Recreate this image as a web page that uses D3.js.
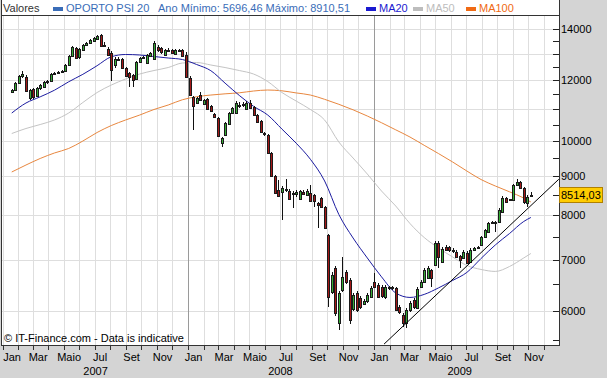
<!DOCTYPE html>
<html>
<head>
<meta charset="utf-8">
<script src="https://cdn.jsdelivr.net/npm/d3@7"></script>
<style>
  html, body { margin: 0; padding: 0; background: #d4d4d4; }
  svg { display: block; font-family: "Liberation Sans", Arial, sans-serif; }
</style>
</head>
<body>
<svg id="chart"></svg>
<script>
// ---- data (weekly candles, PSI 20) ----
const weekDates = d3.timeFriday.range(new Date(2007, 0, 19), new Date(2009, 10, 7));

const openVals = [
  11585, 11655, 11900, 12155, 12120, 11380, 11690, 11445, 11725, 11760,
  11938, 11974, 12229, 12266, 12303, 12340, 12564, 12908, 13222, 12869,
  13143, 13342, 13422, 13502, 13584, 13748, 13342, 13182, 13025, 12564,
  12792, 12792, 12452, 12266, 12192, 12047, 12678, 12831, 12640, 12908,
  12792, 13262, 13222, 12947, 13143, 13143, 12986, 13143, 13143, 12947,
  12083, 11413, 11209, 11481, 11176, 11344, 11109, 10845, 10715, 9941,
  10182, 10524, 10877, 10877, 11142, 11142, 11009, 11209, 11076, 10812,
  10619, 10244, 10182, 9647, 9003, 8632, 8580, 8632, 8606, 8555,
  8529, 8402, 8580, 8503, 8555, 8503, 8302, 8427, 8203, 7541,
  6356, 6831, 5792, 6394, 6750, 6589, 6040, 6337, 6242, 6131,
  6186, 6261,
  6550, 6491, 6452, 6261, 6433, 6452, 6433, 6077, 5932, 5792,
  6022, 6205, 6058, 6452, 6550, 6629, 6790, 6892, 7363, 6955,
  7275, 7275, 7210, 7167, 7081, 7039, 7145, 6955, 7210, 7254,
  7319, 7496, 7609, 7818, 7842, 7842, 8080, 8427, 8377, 8377,
  8763, 8842, 8684, 8302, 8503
];
const highVals = [
  11690, 11940, 12190, 12340, 12190, 11690, 11725, 11760, 11866, 11974,
  12010, 12266, 12303, 12340, 12377, 12601, 12947, 13302, 13262, 13222,
  13382, 13462, 13584, 13666, 13748, 13790, 13462, 13262, 13104, 12869,
  12869, 12831, 12489, 12303, 12229, 12716, 12869, 12908, 12986, 13064,
  13502, 13342, 13262, 13182, 13222, 13182, 13182, 13182, 13182, 13064,
  12156, 11447, 11413, 11585, 11344, 11378, 11142, 10877, 10748, 10121,
  10587, 10910, 11076, 11276, 11243, 11243, 11276, 11310, 11109, 10845,
  10651, 10274, 10213, 9676, 9030, 8895, 8737, 8922, 8658, 8606,
  8632, 8632, 8632, 8658, 8763, 8529, 8327, 8453, 8228, 7564,
  6750, 6872, 6375, 7060, 6790, 6629, 6337, 6375, 6280, 6224,
  6337, 6472,
  6730, 6530, 6491, 6491, 6472, 6472, 6452, 6113, 5968, 6058,
  6186, 6242, 6452, 6589, 6831, 6872, 6810, 7407, 7407, 7275,
  7319, 7297, 7254, 7210, 7102, 7210, 7188, 7254, 7275, 7297,
  7519, 7678, 7842, 7865, 7865, 8178, 8478, 8453, 8402, 8790,
  8910.51, 8868, 8710, 8503, 8580
];
const lowVals = [
  11550, 11620, 11865, 12080, 11585, 11310, 11345, 11410, 11655, 11725,
  11866, 11938, 12192, 12229, 12266, 12303, 12526, 12869, 12792, 12792,
  13104, 13302, 13382, 13462, 13543, 13262, 13262, 12908, 11974, 12452,
  12716, 12415, 12120, 11760, 11760, 12010, 12640, 12792, 12601, 12869,
  12754, 13064, 12986, 12908, 13064, 12986, 12947, 13064, 12869, 12083,
  11447, 10336, 11176, 11276, 11142, 10976, 10910, 10715, 10121, 9822,
  10152, 10492, 10845, 10845, 11042, 11076, 10976, 11009, 10780, 10556,
  10244, 10152, 9618, 8976, 8529, 8453, 7889, 8580, 8377, 8178,
  8453, 8377, 8503, 8478, 8327, 8203, 7701, 8178, 7678, 6077,
  6318, 5914, 5671, 6356, 6511, 5774, 6004, 5986, 6040, 6113,
  6149, 6242,
  6433, 6242, 6242, 6224, 6394, 6394, 6004, 5950, 5722, 5696.46,
  5986, 6040, 6040, 6433, 6530, 6609, 6452, 6872, 6831, 6934,
  7188, 7167, 7145, 7039, 6831, 7018, 6913, 6934, 7188, 7232,
  7297, 7474, 7586, 7795, 7609, 7818, 8056, 8302, 8352, 8352,
  8737, 8658, 8277, 8203, 8453
];
const closeVals = [
  11655, 11900, 12155, 12230, 11620, 11655, 11410, 11725, 11831, 11938,
  11974, 12229, 12266, 12303, 12340, 12564, 12908, 13262, 12831, 13182,
  13342, 13422, 13543, 13625, 13707, 13302, 13302, 12947, 12377, 12792,
  12754, 12452, 12156, 12120, 12010, 12678, 12831, 12869, 12947, 13025,
  13422, 13143, 13064, 13143, 13104, 13025, 13143, 13104, 12908, 12120,
  11481, 11109, 11378, 11310, 11310, 11009, 10943, 10748, 10152, 10091,
  10556, 10877, 11042, 11209, 11109, 11176, 11209, 11042, 10812, 10587,
  10274, 10213, 9647, 9003, 8555, 8478, 8684, 8658, 8402, 8529,
  8580, 8606, 8529, 8606, 8352, 8352, 8252, 8203, 7701, 6261,
  6689, 5968, 6337, 6649, 6550, 5844, 6299, 6022, 6077, 6186,
  6299, 6433,
  6452, 6261, 6280, 6452, 6452, 6433, 6022, 5986, 5792, 6022,
  6149, 6077, 6413, 6550, 6790, 6831, 6629, 7363, 7060, 7232,
  7210, 7210, 7188, 7060, 6997, 7167, 6934, 7210, 7254, 7275,
  7496, 7655, 7818, 7842, 7850, 8129, 8427, 8327, 8390, 8763,
  8842, 8684, 8327, 8453, 8514.03
];

// moving averages, read every 4th week
const maWeeks = [0, 4, 8, 12, 16, 20, 24, 28, 32, 36, 40, 44, 48, 52, 56, 60, 64, 68, 72,
  76, 80, 84, 88, 92, 96, 100, 104, 108, 112, 116, 120, 124, 128, 132, 136, 140, 144, 146];
const ma20 = [10877, 11209, 11419, 11648, 11946, 12218, 12538, 12878, 12967, 12947,
  12889, 12831, 12773, 12583, 12351, 11899, 11467, 11099, 10812, 10364,
  9935, 9466, 8869, 8020, 7474, 7039, 6651, 6337, 6252, 6309,
  6433, 6579, 6740, 7029, 7319, 7575, 7854, 7949];
const ma50 = [10228, 10383, 10508, 10651, 10877, 11226, 11568, 11831, 12047, 12229,
  12358, 12470, 12640, 12659, 12564, 12470, 12358, 12229, 11956, 11568,
  11276, 10993, 10651, 9970, 9503, 9057, 8606, 8227, 7806, 7485,
  7253, 7060, 6882, 6800, 6760, 6861, 7039, 7134];
const ma100 = [9112, 9305, 9489, 9647, 9778, 10000, 10259, 10476, 10651, 10812,
  10993, 11142, 11320, 11423, 11481, 11523, 11558, 11620, 11655, 11627,
  11554, 11481, 11334, 11166, 10983, 10780, 10565, 10342, 10121, 9872,
  9632, 9390, 9139, 8908, 8737, 8586, 8427, 8328];

// support trendline
const trendDates = ["2009-01-21", "2009-12-31"];
const trendVals = [5435, 8915];

// axes
const yTickVals = [5500, 6000, 6500, 7000, 7500, 8000, 8500, 9000, 9500, 10000,
  10500, 11000, 11500, 12000, 12500, 13000, 13500, 14000];
const yLabelVals = [6000, 7000, 8000, 9000, 10000, 12000, 14000];
const yGridVals = [6000, 7000, 8000, 9000, 10000, 11000, 12000, 13000, 14000];
const monthNames = ["Jan", "Fev", "Mar", "Abr", "Maio", "Jun", "Jul", "Ago", "Set", "Out", "Nov", "Dez"];
const yearNames = ["2007", "2008", "2009"];
const yearLabelDates = ["2007-07-03", "2008-07-01", "2009-06-19"];
const lastPriceLabel = "8514,03";

// ---- setup ----
const width = 607;
const height = 378;
const plot = { left: 1, right: 559, top: 15, bottom: 345 };

const svg = d3.select("#chart")
  .attr("width", width)
  .attr("height", height);

const parse = d3.timeParse("%Y-%m-%d");

const x = d3.scaleTime()
  .domain([new Date(2007, 0, 1), new Date(2010, 0, 1)])
  .range([2.6, 559.3]);

const y = d3.scaleLog()
  .domain([5420, 14600])
  .range([plot.bottom, plot.top]);

svg.append("rect")
  .attr("width", width)
  .attr("height", height)
  .attr("fill", "#d4d4d4");

svg.append("rect")
  .attr("x", plot.left)
  .attr("y", 0)
  .attr("width", plot.right - plot.left)
  .attr("height", plot.bottom)
  .attr("fill", "#ffffff");

svg.append("clipPath")
  .attr("id", "plot-clip")
  .append("rect")
  .attr("x", plot.left)
  .attr("y", plot.top)
  .attr("width", plot.right - plot.left)
  .attr("height", plot.bottom - plot.top);

// ---- grid ----
const months = d3.timeMonth.range(new Date(2007, 0, 1), new Date(2010, 0, 1));

svg.append("g")
  .selectAll("line")
  .data(yGridVals)
  .join("line")
  .attr("x1", plot.left)
  .attr("x2", plot.right)
  .attr("y1", d => Math.round(y(d)) + 0.5)
  .attr("y2", d => Math.round(y(d)) + 0.5)
  .attr("stroke", "#dedede");

svg.append("g")
  .selectAll("line")
  .data(months)
  .join("line")
  .attr("x1", d => Math.round(x(d)) + 0.5)
  .attr("x2", d => Math.round(x(d)) + 0.5)
  .attr("y1", plot.top)
  .attr("y2", plot.bottom)
  .attr("stroke", d => d.getMonth() === 0 && d.getFullYear() > 2007 ? "#9a9a9a" : "#dedede");

// ---- moving averages ----
const plotG = svg.append("g").attr("clip-path", "url(#plot-clip)");

const maLine = vals => d3.line()
  .x((d, i) => x(weekDates[d]))
  .y((d, i) => y(vals[i]))
  .curve(d3.curveMonotoneX)(maWeeks);

[[ma100, "#e8873f"], [ma50, "#c4c4c4"], [ma20, "#1c1ca0"]].forEach(([vals, color]) => {
  plotG.append("path")
    .attr("d", maLine(vals))
    .attr("fill", "none")
    .attr("stroke", color)
    .attr("stroke-width", 1);
});

// ---- candles ----
const candles = weekDates.map((d, i) => ({
  date: d, o: openVals[i], h: highVals[i], l: lowVals[i], c: closeVals[i]
}));

const cg = plotG.append("g");

cg.selectAll("line.wick")
  .data(candles)
  .join("line")
  .attr("class", "wick")
  .attr("x1", d => Math.round(x(d.date)) + 0.5)
  .attr("x2", d => Math.round(x(d.date)) + 0.5)
  .attr("y1", d => Math.round(y(d.h)))
  .attr("y2", d => Math.round(y(d.l)))
  .attr("stroke", "#111");

cg.selectAll("rect.body")
  .data(candles)
  .join("rect")
  .attr("class", "body")
  .attr("x", d => Math.round(x(d.date)) - 0.5)
  .attr("width", 2)
  .attr("y", d => Math.round(y(Math.max(d.o, d.c))) + 0.5)
  .attr("height", d => Math.max(1, Math.round(y(Math.min(d.o, d.c))) - Math.round(y(Math.max(d.o, d.c)))))
  .attr("fill", d => d.c >= d.o ? "#35ad35" : "#a41818")
  .attr("stroke", "#1a1a1a")
  .attr("stroke-width", 1);

// ---- trendline ----
plotG.append("line")
  .attr("x1", x(parse(trendDates[0])))
  .attr("y1", y(trendVals[0]))
  .attr("x2", x(parse(trendDates[1])))
  .attr("y2", y(trendVals[1]))
  .attr("stroke", "#000")
  .attr("stroke-width", 1);

// ---- frame ----
const frame = svg.append("g").attr("stroke", "#333").attr("fill", "none");
frame.append("line").attr("x1", plot.left).attr("x2", plot.right).attr("y1", plot.top + 0.5).attr("y2", plot.top + 0.5);
frame.append("line").attr("x1", plot.right + 0.5).attr("x2", plot.right + 0.5).attr("y1", 0).attr("y2", plot.bottom + 1);
frame.append("line").attr("x1", plot.left).attr("x2", plot.right + 1).attr("y1", plot.bottom + 0.5).attr("y2", plot.bottom + 0.5);
frame.append("line").attr("x1", plot.left + 0.5).attr("x2", plot.left + 0.5).attr("y1", 0).attr("y2", plot.bottom);

// ---- y axis ----
svg.append("g")
  .selectAll("line")
  .data(yTickVals)
  .join("line")
  .attr("x1", plot.right - 6)
  .attr("x2", plot.right)
  .attr("y1", d => Math.round(y(d)) + 0.5)
  .attr("y2", d => Math.round(y(d)) + 0.5)
  .attr("stroke", "#222");

svg.append("g")
  .selectAll("text")
  .data(yLabelVals)
  .join("text")
  .attr("x", plot.right + 2)
  .attr("y", d => y(d) + 4)
  .attr("font-size", "11px")
  .attr("fill", "#000")
  .text(d => d);

// last price tag
const lastY = y(closeVals[closeVals.length - 1]);
svg.append("rect")
  .attr("x", plot.right + 0.5)
  .attr("y", Math.round(lastY) - 7.5)
  .attr("width", 43)
  .attr("height", 15)
  .attr("fill", "#ffcc00")
  .attr("stroke", "#b08000");
svg.append("text")
  .attr("x", plot.right + 2)
  .attr("y", lastY + 4)
  .attr("font-size", "11px")
  .attr("fill", "#000")
  .text(lastPriceLabel);

// ---- x axis ----
svg.append("g")
  .selectAll("line")
  .data(months)
  .join("line")
  .attr("x1", d => Math.round(x(d)) + 0.5)
  .attr("x2", d => Math.round(x(d)) + 0.5)
  .attr("y1", plot.bottom + 1)
  .attr("y2", plot.bottom + 5)
  .attr("stroke", "#333");

svg.append("g")
  .selectAll("text")
  .data(months.filter(d => d.getMonth() % 2 === 0))
  .join("text")
  .attr("x", d => Math.max(12, x(d3.timeDay.offset(d, 11))))
  .attr("y", 361)
  .attr("text-anchor", "middle")
  .attr("font-size", "11px")
  .attr("fill", "#000")
  .text(d => monthNames[d.getMonth()]);

svg.append("g")
  .selectAll("text")
  .data(yearNames)
  .join("text")
  .attr("x", (d, i) => x(parse(yearLabelDates[i])))
  .attr("y", 375)
  .attr("text-anchor", "middle")
  .attr("font-size", "11px")
  .attr("fill", "#000")
  .text(d => d);

// ---- notes / legend ----
svg.append("text")
  .attr("x", 4)
  .attr("y", 342)
  .attr("font-size", "11px")
  .attr("fill", "#000")
  .text("\u00a9 IT-Finance.com - Data is indicative");

const header = svg.append("g").attr("font-size", "11px");

header.append("text").attr("x", 3).attr("y", 12).attr("fill", "#333").text("Valores");
header.append("rect").attr("x", 53).attr("y", 7).attr("width", 10).attr("height", 4).attr("fill", "#3a6db8");
header.append("text").attr("x", 66).attr("y", 12).attr("fill", "#3a6db8").text("OPORTO PSI 20");
header.append("text").attr("x", 158).attr("y", 12).attr("fill", "#3a6db8").text("Ano Mínimo: 5696,46 Máximo: 8910,51");

const maLegend = [
  { label: "MA20", color: "#1a1ad0", x: 366 },
  { label: "MA50", color: "#bdbdbd", x: 413 },
  { label: "MA100", color: "#f06a14", x: 466 }
];
maLegend.forEach(d => {
  header.append("rect").attr("x", d.x).attr("y", 7).attr("width", 10).attr("height", 4).attr("fill", d.color);
  header.append("text").attr("x", d.x + 13).attr("y", 12).attr("fill", d.color).text(d.label);
});
</script>
</body>
</html>
